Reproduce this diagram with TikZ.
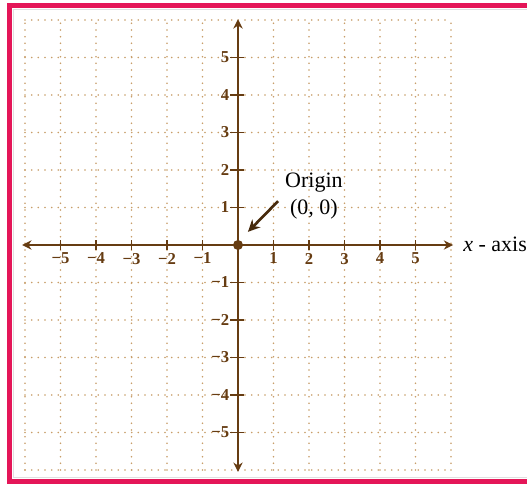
\documentclass[tikz,border=0pt]{standalone}
\usepackage{fontspec}
\setmainfont{Liberation Serif}
\usetikzlibrary{arrows.meta}
\definecolor{axisbrown}{RGB}{102,60,18}
\definecolor{gridtan}{RGB}{200,158,105}
\definecolor{framepink}{RGB}{228,22,88}
\tikzset{
    gridline/.style={gridtan, line width=1.3pt, line cap=round, dash pattern=on 0pt off 5pt},
    axisline/.style={axisbrown, line width=1.9pt},
    ticklabel/.style={axisbrown, font=\fontsize{12.5}{13}\selectfont\bfseries, inner sep=1pt},
}
\begin{document}
\begin{tikzpicture}[x=26.625pt, y=28.125pt, >={Stealth[length=7pt,width=7pt]}]
    \useasboundingbox (-6.704,-6.347) rectangle (8.141,6.533);
    \fill[white] (-6.704,-6.347) rectangle (8.141,6.533);

    % 边框
    \draw[framepink, line width=3.9pt] (8.141,6.379) -- (-6.437,6.379) -- (-6.437,-6.307) -- (8.141,-6.307);
    \draw[gray!25, line width=0.8pt] (8.141,6.27) -- (-6.33,6.27) -- (-6.33,-6.21) -- (8.141,-6.21);

    % 网格
    \foreach \k in {-6,...,6} {
        \draw[gridline] (\k,-6) -- (\k,6);
        \draw[gridline] (-6,\k) -- (6,\k);
    }

    % 坐标轴
    \coordinate (xl) at (-6.08,0);
    \coordinate (xr) at (6.06,0);
    \coordinate (yb) at (0,-6.05);
    \coordinate (yt) at (0,6.02);
    \draw[axisline, <->] (xl) -- (xr);
    \draw[axisline, <->] (yb) -- (yt);

    % 刻度
    \foreach \k/\t in {-5/−5,-4/−4,-3/−3,-2/−2,-1/−1,1/1,2/2,3/3,4/4,5/5} {
        \draw[axisbrown, line width=1.4pt] (\k,-0.13) -- (\k,0.13);
        \node[ticklabel, anchor=north] (xt\k) at (\k,-0.17) {\t};
        \draw[axisbrown, line width=1.4pt] (-0.22,\k) -- (0.18,\k);
        \node[ticklabel, anchor=east] (yt\k) at (-0.2,\k) {\t};
    }

    % 原点
    \node[circle, fill=axisbrown, inner sep=0pt, minimum size=7.5pt] (O) at (0,0) {};
    \node[align=center, font=\fontsize{16.5}{20}\selectfont] (origin) at (2.14,1.3) {Origin\\(0, 0)};
    \coordinate (ostart) at (1.13,1.17);
    \coordinate (oend) at (0.28,0.35);
    \draw[-{Stealth[length=9pt,width=8.5pt]}, axisbrown!70!black, line width=2pt] (ostart) -- (oend);

    \node[anchor=west, font=\fontsize{16.5}{20}\selectfont, inner sep=0pt] (xaxis) at (6.34,0.02) {\textit{x} - axis};
\end{tikzpicture}
\end{document}
